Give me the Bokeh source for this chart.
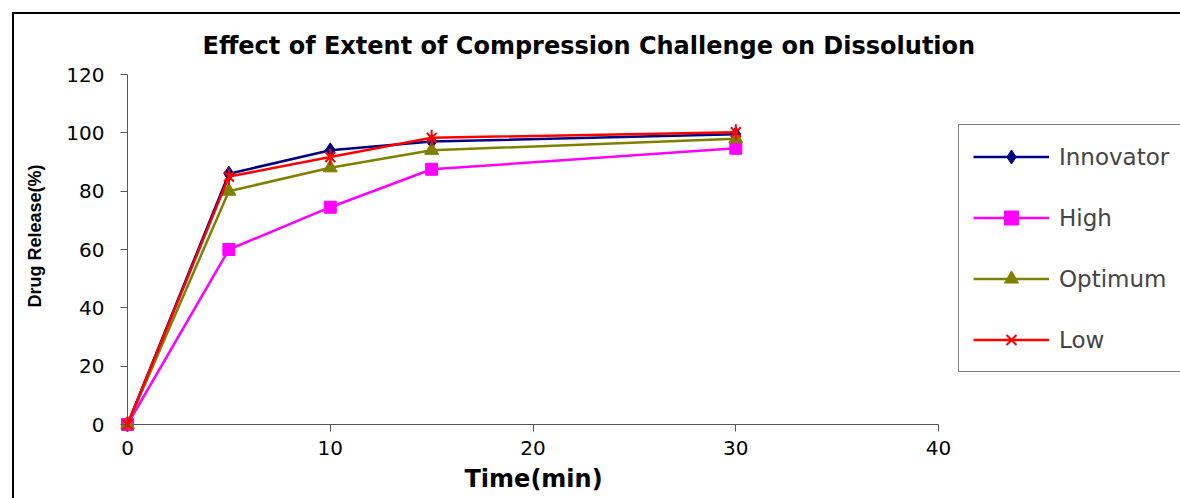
import math
from bokeh.plotting import figure
from bokeh.models import Range1d, FixedTicker, Legend, LegendItem, Title
from bokeh.embed import file_html
from bokeh.resources import INLINE

time_min = [0, 5, 10, 15, 30]
innovator = [0, 86, 94, 97, 99.5]
high = [0, 60, 74.5, 87.5, 94.7]
optimum = [0, 80, 88, 94, 98]
low = [0, 85, 91.7, 98.3, 100.2]
x_ticks = [0, 10, 20, 30, 40]
y_ticks = [0, 20, 40, 60, 80, 100, 120]
series_names = ["Innovator", "High", "Optimum", "Low"]

FONT = "DejaVu Sans"
AXIS_COLOR = "#555555"

p = figure(width=1180, height=498, output_backend="svg", toolbar_location=None,
           x_range=Range1d(-0.345, 51.93), y_range=Range1d(-2.4, 120),
           min_border_left=120, min_border_right=0, min_border_top=74,
           min_border_bottom=67)
p.outline_line_color = None
p.grid.visible = False
p.background_fill_color = "white"
p.border_fill_color = None
p.styles = {
    "background-color": "white",
    "background-image": "linear-gradient(black, black), linear-gradient(black, black)",
    "background-size": "2px 100%, 100% 2px",
    "background-position": "12px 12px, 12px 12px",
    "background-repeat": "no-repeat",
}

p.title.text = "Effect of Extent of Compression Challenge on Dissolution"
p.title.align = "left"
p.title.offset = 82
p.title.text_font = FONT
p.title.text_font_size = "24px"
p.title.text_font_style = "bold"
p.title.text_color = "black"
p.title.standoff = 30

for ax in (p.xaxis[0], p.yaxis[0]):
    ax.axis_line_color = None
    ax.major_tick_line_color = AXIS_COLOR
    ax.minor_tick_line_color = None
    ax.major_tick_in = 7
    ax.major_tick_out = 0
    ax.major_label_text_font = FONT
    ax.major_label_text_font_size = "20px"
    ax.major_label_text_color = "black"

p.xaxis.ticker = FixedTicker(ticks=x_ticks)
p.yaxis.ticker = FixedTicker(ticks=y_ticks)
p.xaxis.major_label_standoff = 9
p.yaxis.major_label_standoff = 16

xlabel = Title(text="Time(min)", align="left", offset=344, text_font=FONT,
               text_font_size="24px", text_font_style="bold", text_color="black",
               standoff=11)
p.add_layout(xlabel, "below")

ylabel = Title(text="Drug Release(%)", align="left", offset=124, text_font="Liberation Sans",
               text_font_size="18px", text_font_style="bold", text_color="black",
               standoff=38)
p.add_layout(ylabel, "left")

# axis lines through the origin, spanning the tick range
p.segment(x0=[x_ticks[0], x_ticks[0]], y0=[y_ticks[0], y_ticks[0]],
          x1=[x_ticks[-1], x_ticks[0]], y1=[y_ticks[0], y_ticks[-1]],
          line_color=AXIS_COLOR, line_width=1)

items = []
l1 = p.line(time_min, innovator, line_color="#000080", line_width=2.5)
m1 = p.scatter(time_min, innovator, marker="diamond", size=15, fill_color="#000080", line_color="#000080")
items.append(LegendItem(label=series_names[0], renderers=[l1, m1]))

l2 = p.line(time_min, high, line_color="#FF00FF", line_width=2.5)
m2 = p.scatter(time_min, high, marker="square", size=12, fill_color="#FF00FF", line_color="#FF00FF")
items.append(LegendItem(label=series_names[1], renderers=[l2, m2]))

l3 = p.line(time_min, optimum, line_color="#808000", line_width=2.5)
m3 = p.scatter(time_min, optimum, marker="triangle", size=14, fill_color="#808000", line_color="#808000")
items.append(LegendItem(label=series_names[2], renderers=[l3, m3]))

l4 = p.line(time_min, low, line_color="#FF0000", line_width=2.5)
m4a = p.scatter(time_min, low, marker="x", size=14, line_color="#FF0000", line_width=2)
m4b = p.scatter(time_min, low, marker="dash", size=16, angle=math.pi / 2, line_color="#FF0000", line_width=2)
items.append(LegendItem(label=series_names[3], renderers=[l4, m4a, m4b]))

legend = Legend(items=items, location=(838, 59), label_text_font=FONT,
                label_text_font_size="23px", glyph_width=76, glyph_height=35,
                label_height=35, spacing=26, padding=14, margin=0,
                label_standoff=10, border_line_color="black", border_line_width=1,
                background_fill_alpha=1.0)
p.add_layout(legend)

open("out.html", "w").write(file_html(p, INLINE))
